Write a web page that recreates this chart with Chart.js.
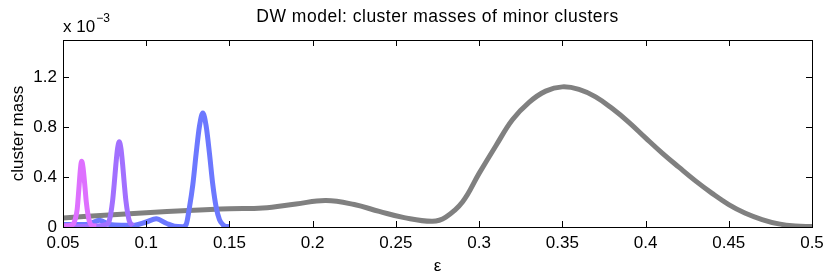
<!DOCTYPE html>
<html>
<head>
<meta charset="utf-8">
<script src="https://cdn.jsdelivr.net/npm/chart.js@4"></script>
<style>
  html, body { margin: 0; padding: 0; background: #fff; }
  #wrap { width: 830px; height: 280px; }
</style>
</head>
<body>
<div id="wrap"><canvas id="canvas"></canvas></div>
<script>
// values in units of 1e-3
const magentaX = [0.05, 0.053, 0.055, 0.0565, 0.0575, 0.0585, 0.0595, 0.0605, 0.0612, 0.062, 0.063, 0.064, 0.065, 0.066, 0.0675, 0.07];
const magentaY = [0.01, 0.01, 0.015, 0.03, 0.07, 0.14, 0.3, 0.47, 0.527, 0.48, 0.35, 0.2, 0.1, 0.04, 0.012, 0.008];

const purpleX = [0.05, 0.06, 0.07, 0.0758, 0.0778, 0.0798, 0.0808, 0.0818, 0.0828, 0.0838, 0.0848, 0.0858, 0.0868, 0.0878, 0.0898, 0.092];
const purpleY = [0.005, 0.005, 0.008, 0.02, 0.05, 0.21, 0.35, 0.505, 0.63, 0.683, 0.63, 0.505, 0.35, 0.21, 0.05, 0.01];

const blueX = [0.05, 0.06, 0.066, 0.072, 0.078, 0.085, 0.093, 0.1, 0.106, 0.112, 0.117, 0.122, 0.124, 0.126, 0.128, 0.13, 0.132, 0.134, 0.136, 0.138, 0.14, 0.142, 0.144, 0.146, 0.148, 0.15];
const blueY = [0.02, 0.02, 0.025, 0.055, 0.02, 0.015, 0.015, 0.04, 0.066, 0.03, 0.006, 0.003, 0.02, 0.16, 0.34, 0.59, 0.81, 0.915, 0.81, 0.59, 0.34, 0.16, 0.06, 0.02, 0.004, 0.003];

const grayX = [0.05, 0.075, 0.1, 0.125, 0.15, 0.17, 0.19, 0.208, 0.225, 0.24, 0.255, 0.272, 0.28, 0.29, 0.3, 0.31, 0.32, 0.33, 0.34, 0.35, 0.36, 0.37, 0.38, 0.39, 0.4, 0.41, 0.42, 0.43, 0.44, 0.45, 0.46, 0.47, 0.48, 0.49, 0.5];
const grayY = [0.072, 0.095, 0.114, 0.132, 0.146, 0.152, 0.185, 0.212, 0.18, 0.125, 0.075, 0.046, 0.08, 0.2, 0.43, 0.65, 0.86, 1.0, 1.09, 1.124, 1.104, 1.044, 0.95, 0.84, 0.715, 0.593, 0.48, 0.37, 0.27, 0.18, 0.11, 0.06, 0.025, 0.008, 0.003];

const xTicks = [0.05, 0.1, 0.15, 0.2, 0.25, 0.3, 0.35, 0.4, 0.45, 0.5];
const yTicks = [0, 0.4, 0.8, 1.2];

const FONT = "'Liberation Sans', Arial, sans-serif";

function pts(xs, ys) {
	return xs.map((x, i) => ({ x: x, y: ys[i] }));
}

function serie(xs, ys, color, suave) {
	return {
		data: pts(xs, ys),
		borderColor: color,
		borderWidth: 5,
		pointRadius: 0,
		fill: false,
		tension: suave ? 0.4 : 0,
		cubicInterpolationMode: suave ? "default" : "monotone",
	};
}

// tick marks inside the box and text, MATLAB style
const caja = {
	id: "caja",
	afterDatasetsDraw(chart) {
		const ctx = chart.ctx;
		const a = chart.chartArea;
		const sx = chart.scales.x;
		const sy = chart.scales.y;
		ctx.save();
		ctx.strokeStyle = "#000";
		ctx.lineWidth = 1;
		ctx.strokeRect(a.left + 0.5, a.top + 0.5, a.right - a.left, a.bottom - a.top);
		ctx.beginPath();
		xTicks.forEach((v) => {
			const px = Math.round(sx.getPixelForValue(v)) + 0.5;
			ctx.moveTo(px, a.bottom);
			ctx.lineTo(px, a.bottom - 6);
			ctx.moveTo(px, a.top);
			ctx.lineTo(px, a.top + 6);
		});
		yTicks.forEach((v) => {
			const py = Math.round(sy.getPixelForValue(v)) + 0.5;
			ctx.moveTo(a.left, py);
			ctx.lineTo(a.left + 6, py);
			ctx.moveTo(a.right, py);
			ctx.lineTo(a.right - 6, py);
		});
		ctx.stroke();

		ctx.fillStyle = "#000";
		ctx.font = "17.5px " + FONT;
		ctx.letterSpacing = "0.5px";
		ctx.textAlign = "center";
		ctx.textBaseline = "alphabetic";
		ctx.fillText("DW model: cluster masses of minor clusters", (a.left + a.right) / 2, 22);
		ctx.letterSpacing = "0px";

		ctx.font = "17px " + FONT;
		ctx.textAlign = "left";
		ctx.fillText("x 10", a.left, 32);
		const w = ctx.measureText("x 10").width;
		ctx.font = "12px " + FONT;
		ctx.fillText("\u22123", a.left + w + 1, 22);

		ctx.font = "17px " + FONT;
		ctx.textAlign = "center";
		ctx.fillText("\u03b5", (a.left + a.right) / 2, 271);

		ctx.translate(23, (a.top + a.bottom) / 2);
		ctx.rotate(-Math.PI / 2);
		ctx.fillText("cluster mass", 0, 0);
		ctx.restore();
	},
};

const grafico = new Chart(document.getElementById("canvas"), {
	type: "line",
	data: {
		datasets: [
			serie(magentaX, magentaY, "rgb(222,112,255)", false),
			serie(purpleX, purpleY, "rgb(162,112,255)", false),
			serie(blueX, blueY, "rgb(108,120,255)", false),
			serie(grayX, grayY, "rgb(128,128,128)", true),
		],
	},
	options: {
		responsive: true,
		maintainAspectRatio: false,
		animation: false,
		layout: { padding: { left: 0, top: 40, right: 18, bottom: 0 } },
		plugins: { legend: { display: false }, tooltip: { enabled: false }, title: { display: false } },
		scales: {
			x: {
				type: "linear",
				min: 0.05,
				max: 0.5,
				grid: { display: false, drawTicks: false },
				border: { display: false },
				afterBuildTicks: (s) => { s.ticks = xTicks.map((v) => ({ value: v })); },
				afterFit: (s) => { s.height = 53; },
				ticks: {
					padding: 6,
					color: "#000",
					font: { family: FONT, size: 17 },
					maxRotation: 0,
					callback: (v) => String(+v.toFixed(2)),
				},
			},
			y: {
				type: "linear",
				min: 0,
				max: 1.5,
				grid: { display: false, drawTicks: false },
				border: { display: false },
				afterBuildTicks: (s) => { s.ticks = yTicks.map((v) => ({ value: v })); },
				afterFit: (s) => { s.width = 63; },
				ticks: {
					padding: 6,
					color: "#000",
					font: { family: FONT, size: 17 },
					callback: (v) => String(+v.toFixed(1)),
				},
			},
		},
	},
	plugins: [caja],
});
</script>
</body>
</html>
